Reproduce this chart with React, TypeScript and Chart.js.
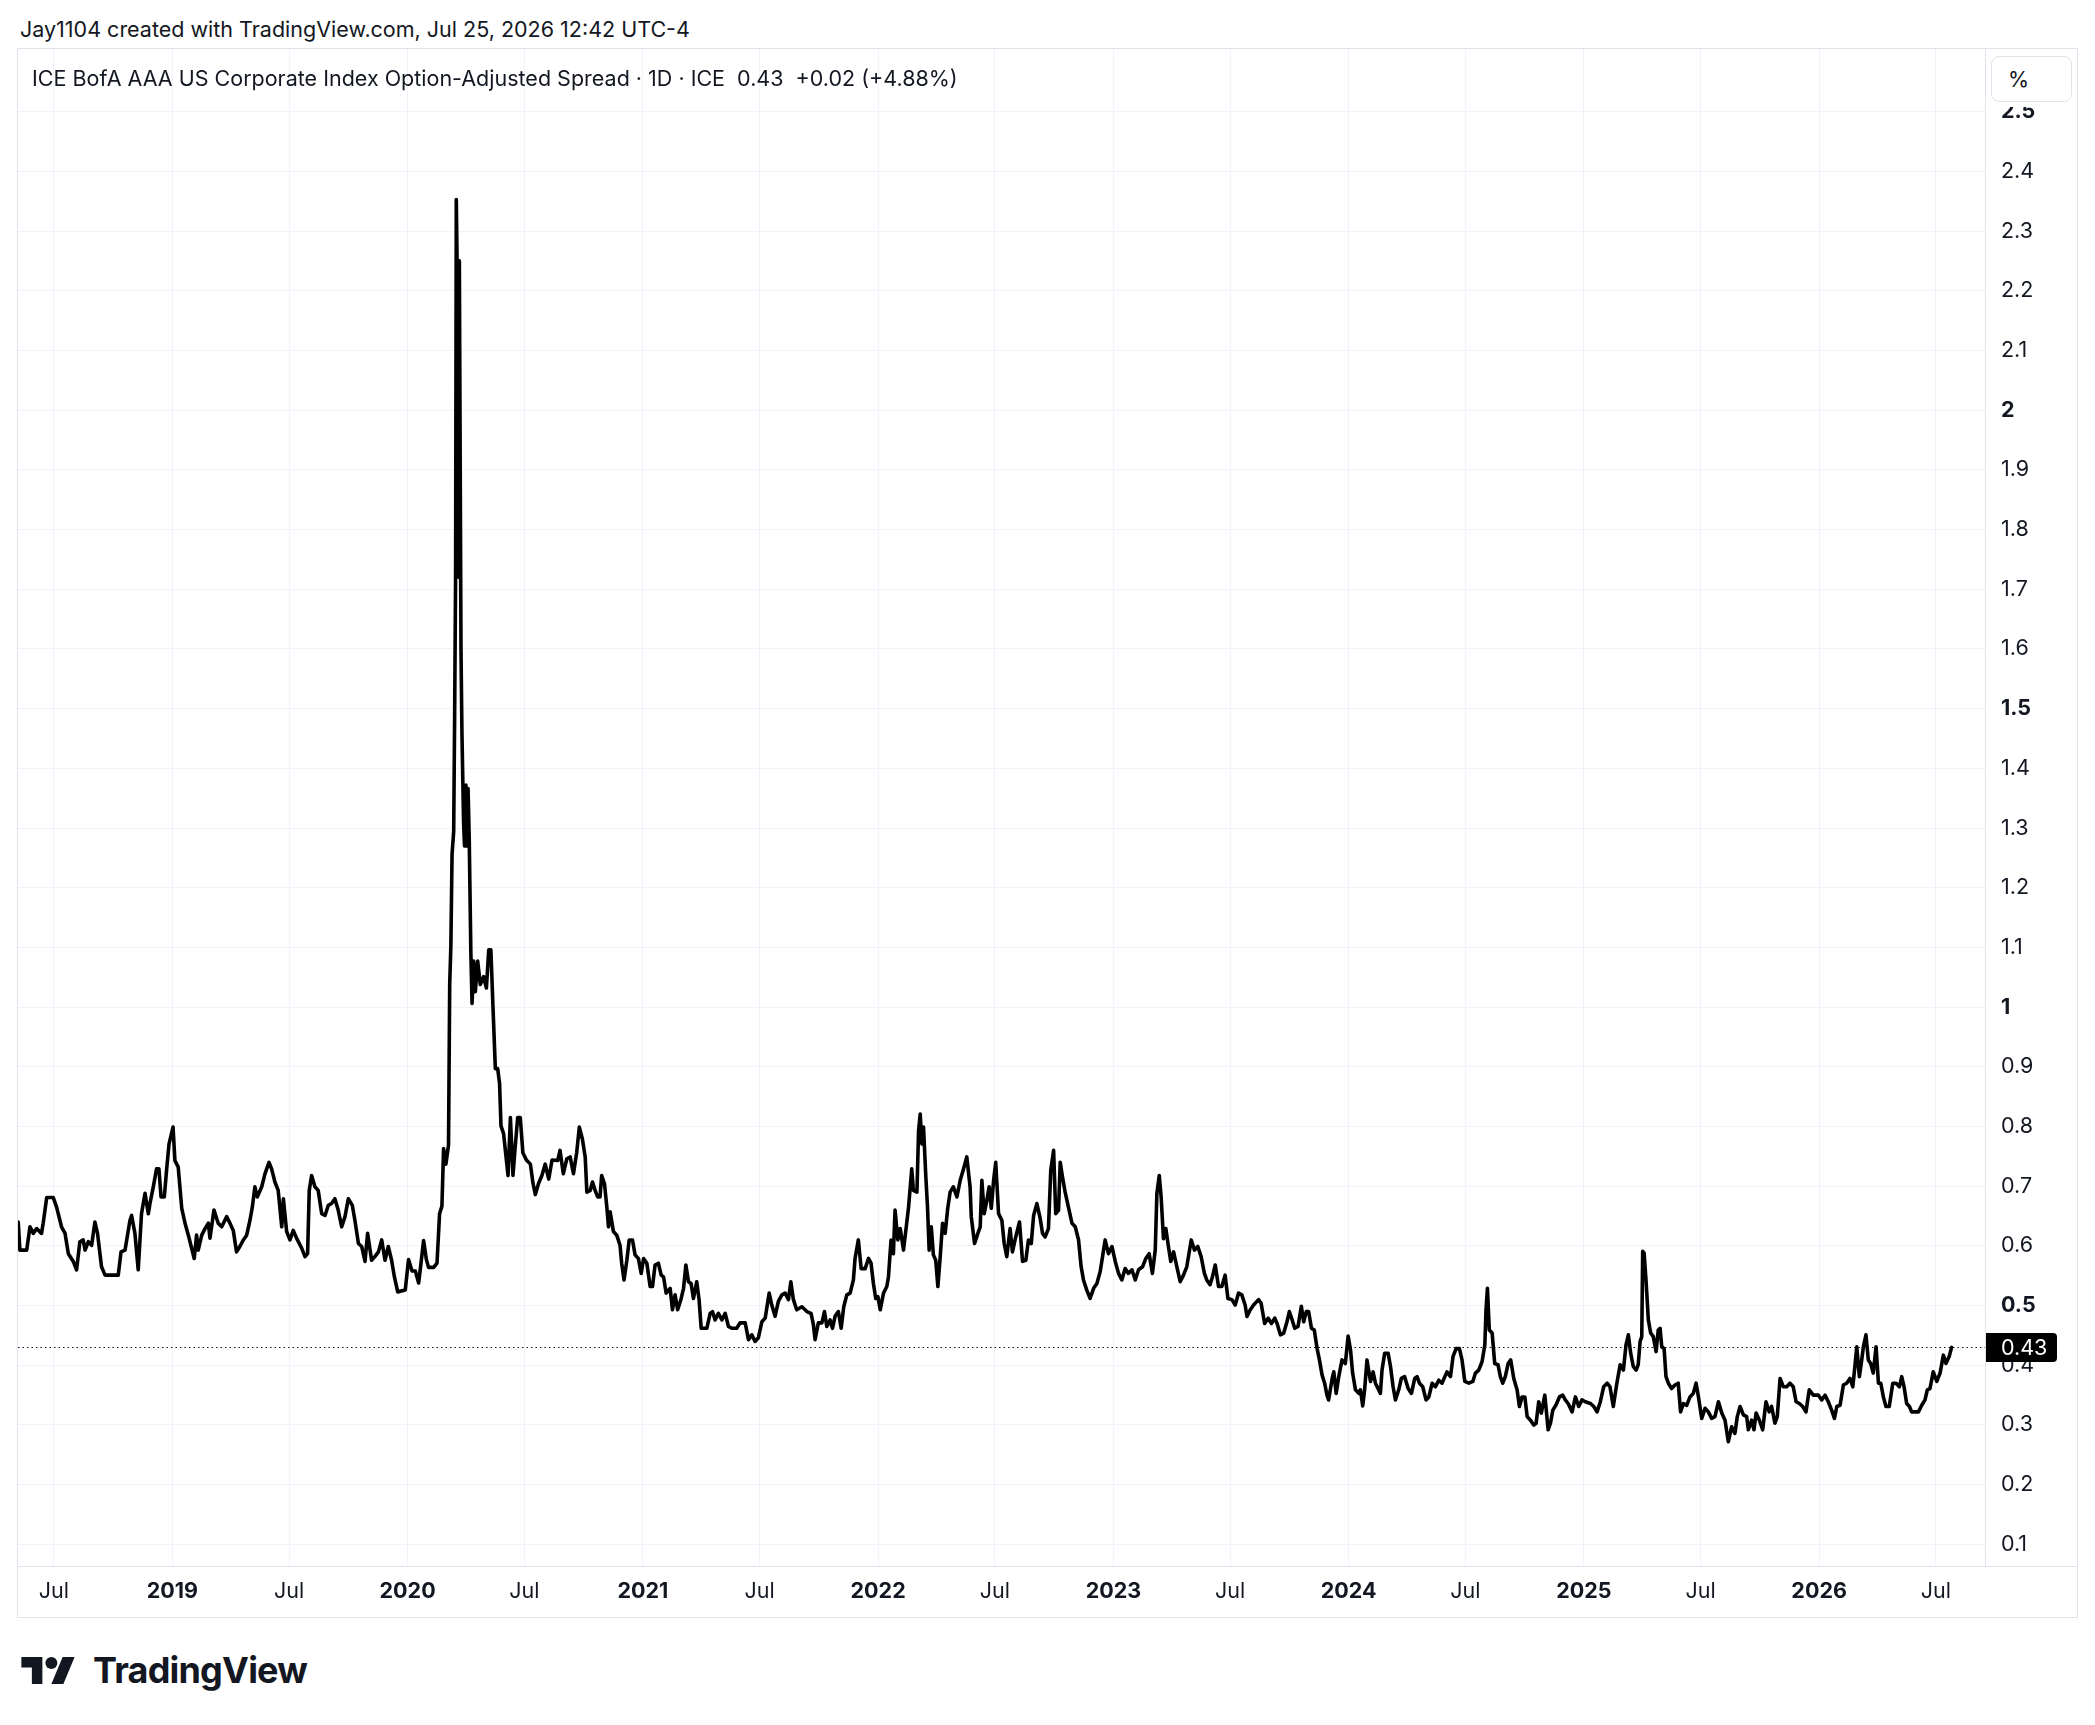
import React, { useEffect, useRef } from 'react';
import { Chart, registerables } from 'chart.js';

Chart.register(...registerables);

const FONT = 'Inter, "Noto Sans", "DejaVu Sans", sans-serif';
const TEXT = '#131722';
const GRID = '#f0f3fa';
const BORDER = '#e0e3eb';
const FS = 21.5;

// Axis definitions
const X_MIN = 2018.344;
const X_MAX = 2026.705;
const Y_MIN = 0.0638;
const Y_MAX = 2.605;

const xTickValues = [2018.496, 2019, 2019.496, 2020, 2020.496, 2021, 2021.496, 2022, 2022.496, 2023, 2023.496, 2024, 2024.496, 2025, 2025.496, 2026, 2026.496];
const xTickLabels = ['Jul', '2019', 'Jul', '2020', 'Jul', '2021', 'Jul', '2022', 'Jul', '2023', 'Jul', '2024', 'Jul', '2025', 'Jul', '2026', 'Jul'];

const yTickValues = [0.1, 0.2, 0.3, 0.4, 0.5, 0.6, 0.7, 0.8, 0.9, 1, 1.1, 1.2, 1.3, 1.4, 1.5, 1.6, 1.7, 1.8, 1.9, 2, 2.1, 2.2, 2.3, 2.4, 2.5];
const yTickLabels = ['0.1', '0.2', '0.3', '0.4', '0.5', '0.6', '0.7', '0.8', '0.9', '1', '1.1', '1.2', '1.3', '1.4', '1.5', '1.6', '1.7', '1.8', '1.9', '2', '2.1', '2.2', '2.3', '2.4', '2.5'];

const lastValue = 0.43;
const headerTitle = 'ICE BofA AAA US Corporate Index Option-Adjusted Spread · 1D · ICE  0.43  +0.02 (+4.88%)';
const creditLine = 'Jay1104 created with TradingView.com, Jul 25, 2026 12:42 UTC-4';

// Series: [fractional year, spread %]
const spread2018 = [
  [2018.345, 0.640], [2018.352, 0.593], [2018.381, 0.593], [2018.395, 0.632], [2018.409, 0.621], [2018.423, 0.629],
  [2018.444, 0.621], [2018.451, 0.638], [2018.466, 0.681], [2018.494, 0.681], [2018.508, 0.665], [2018.529, 0.632],
  [2018.544, 0.621], [2018.558, 0.587], [2018.579, 0.574], [2018.593, 0.560], [2018.607, 0.607], [2018.621, 0.610],
  [2018.629, 0.593], [2018.643, 0.607], [2018.657, 0.601], [2018.671, 0.640], [2018.682, 0.621], [2018.699, 0.565],
  [2018.714, 0.551], [2018.742, 0.551], [2018.770, 0.551], [2018.782, 0.590], [2018.799, 0.593], [2018.820, 0.643],
  [2018.827, 0.651], [2018.841, 0.621], [2018.855, 0.560], [2018.869, 0.654], [2018.884, 0.688], [2018.898, 0.654],
  [2018.905, 0.671], [2018.919, 0.699], [2018.933, 0.729], [2018.943, 0.729], [2018.952, 0.682], [2018.966, 0.682],
  [2018.976, 0.729], [2018.986, 0.771],
];

const spread2019 = [
  [2019.003, 0.799], [2019.011, 0.743], [2019.025, 0.732], [2019.040, 0.663], [2019.054, 0.638], [2019.068, 0.618],
  [2019.082, 0.596], [2019.093, 0.579], [2019.103, 0.618], [2019.110, 0.593], [2019.125, 0.618], [2019.139, 0.629],
  [2019.153, 0.638], [2019.160, 0.613], [2019.177, 0.660], [2019.195, 0.638], [2019.210, 0.632], [2019.231, 0.649],
  [2019.245, 0.638], [2019.259, 0.626], [2019.273, 0.590], [2019.287, 0.599], [2019.302, 0.610], [2019.316, 0.618],
  [2019.330, 0.643], [2019.340, 0.665], [2019.351, 0.699], [2019.361, 0.682], [2019.380, 0.699], [2019.394, 0.721],
  [2019.411, 0.740], [2019.422, 0.729], [2019.436, 0.707], [2019.450, 0.693], [2019.465, 0.632], [2019.472, 0.679],
  [2019.486, 0.624], [2019.500, 0.610], [2019.514, 0.626], [2019.528, 0.613], [2019.550, 0.596], [2019.564, 0.582],
  [2019.575, 0.587], [2019.582, 0.693], [2019.592, 0.718], [2019.606, 0.699], [2019.620, 0.693], [2019.635, 0.654],
  [2019.649, 0.651], [2019.663, 0.668], [2019.677, 0.671], [2019.691, 0.679], [2019.705, 0.660], [2019.720, 0.632],
  [2019.734, 0.649], [2019.748, 0.679], [2019.765, 0.668], [2019.776, 0.643], [2019.791, 0.604], [2019.805, 0.599],
  [2019.819, 0.574], [2019.830, 0.621], [2019.847, 0.576], [2019.861, 0.582], [2019.876, 0.590], [2019.890, 0.610],
  [2019.904, 0.576], [2019.918, 0.599], [2019.932, 0.576], [2019.944, 0.548], [2019.958, 0.523], [2019.990, 0.526],
];

const spread2020 = [
  [2020.004, 0.577], [2020.019, 0.558], [2020.033, 0.558], [2020.047, 0.538], [2020.057, 0.571], [2020.068, 0.609],
  [2020.080, 0.577], [2020.089, 0.564], [2020.111, 0.564], [2020.125, 0.571], [2020.136, 0.654], [2020.146, 0.667],
  [2020.153, 0.763], [2020.163, 0.737], [2020.174, 0.769], [2020.179, 1.038], [2020.184, 1.103], [2020.189, 1.256],
  [2020.196, 1.295], [2020.200, 1.487], [2020.204, 1.718], [2020.207, 2.353], [2020.212, 2.200], [2020.216, 1.720],
  [2020.220, 2.250], [2020.227, 1.600], [2020.231, 1.460], [2020.238, 1.310], [2020.242, 1.270], [2020.248, 1.372],
  [2020.252, 1.270], [2020.257, 1.366], [2020.262, 1.282], [2020.269, 1.090], [2020.274, 1.006], [2020.281, 1.077],
  [2020.288, 1.026], [2020.298, 1.077], [2020.309, 1.038], [2020.323, 1.051], [2020.335, 1.032], [2020.345, 1.096],
  [2020.354, 1.096], [2020.363, 1.000], [2020.373, 0.897], [2020.383, 0.897], [2020.391, 0.872], [2020.397, 0.801],
  [2020.408, 0.788], [2020.420, 0.744], [2020.427, 0.718], [2020.437, 0.815], [2020.448, 0.718], [2020.458, 0.769],
  [2020.468, 0.815], [2020.479, 0.815], [2020.490, 0.756], [2020.505, 0.744], [2020.522, 0.737], [2020.533, 0.705],
  [2020.543, 0.686], [2020.557, 0.705], [2020.571, 0.718], [2020.585, 0.737], [2020.600, 0.712], [2020.614, 0.744],
  [2020.638, 0.743], [2020.648, 0.760], [2020.662, 0.721], [2020.677, 0.746], [2020.691, 0.749], [2020.705, 0.721],
  [2020.719, 0.757], [2020.730, 0.799], [2020.743, 0.779], [2020.755, 0.749], [2020.762, 0.690], [2020.776, 0.693],
  [2020.786, 0.707], [2020.797, 0.693], [2020.808, 0.682], [2020.818, 0.682], [2020.825, 0.718], [2020.837, 0.704],
  [2020.847, 0.665], [2020.854, 0.632], [2020.861, 0.657], [2020.875, 0.624], [2020.889, 0.618], [2020.903, 0.601],
  [2020.910, 0.571], [2020.920, 0.543], [2020.932, 0.576], [2020.942, 0.610], [2020.956, 0.610], [2020.967, 0.585],
  [2020.981, 0.579], [2020.993, 0.554],
];

const spread2021 = [
  [2021.003, 0.579], [2021.017, 0.571], [2021.031, 0.532], [2021.041, 0.532], [2021.052, 0.568], [2021.066, 0.571],
  [2021.078, 0.551], [2021.088, 0.548], [2021.099, 0.521], [2021.116, 0.529], [2021.126, 0.493], [2021.137, 0.518],
  [2021.148, 0.493], [2021.163, 0.512], [2021.173, 0.529], [2021.183, 0.568], [2021.194, 0.540], [2021.205, 0.537],
  [2021.215, 0.512], [2021.229, 0.540], [2021.239, 0.510], [2021.248, 0.462], [2021.272, 0.462], [2021.286, 0.487],
  [2021.296, 0.490], [2021.307, 0.476], [2021.321, 0.487], [2021.336, 0.476], [2021.350, 0.487], [2021.364, 0.465],
  [2021.378, 0.462], [2021.399, 0.462], [2021.413, 0.471], [2021.435, 0.471], [2021.449, 0.443], [2021.463, 0.451],
  [2021.477, 0.440], [2021.491, 0.446], [2021.506, 0.473], [2021.520, 0.479], [2021.537, 0.521], [2021.548, 0.501],
  [2021.562, 0.482], [2021.576, 0.507], [2021.591, 0.518], [2021.605, 0.521], [2021.619, 0.510], [2021.629, 0.540],
  [2021.640, 0.510], [2021.654, 0.493], [2021.676, 0.498], [2021.697, 0.490], [2021.715, 0.487], [2021.725, 0.468],
  [2021.732, 0.443], [2021.746, 0.471], [2021.761, 0.471], [2021.772, 0.490], [2021.782, 0.465], [2021.796, 0.476],
  [2021.806, 0.462], [2021.817, 0.482], [2021.831, 0.490], [2021.843, 0.462], [2021.854, 0.498], [2021.867, 0.518],
  [2021.881, 0.521], [2021.895, 0.543], [2021.902, 0.579], [2021.916, 0.610], [2021.928, 0.562], [2021.945, 0.562],
  [2021.959, 0.579], [2021.970, 0.571], [2021.980, 0.537], [2021.990, 0.512], [2021.999, 0.515],
];

const spread2022 = [
  [2022.009, 0.493], [2022.023, 0.521], [2022.037, 0.532], [2022.044, 0.548], [2022.055, 0.610], [2022.065, 0.587],
  [2022.072, 0.660], [2022.084, 0.610], [2022.094, 0.629], [2022.108, 0.593], [2022.129, 0.663], [2022.143, 0.729],
  [2022.150, 0.693], [2022.165, 0.690], [2022.172, 0.793], [2022.179, 0.821], [2022.186, 0.771], [2022.193, 0.799],
  [2022.203, 0.715], [2022.210, 0.665], [2022.217, 0.593], [2022.226, 0.632], [2022.235, 0.585], [2022.245, 0.576],
  [2022.254, 0.532], [2022.264, 0.582], [2022.274, 0.638], [2022.285, 0.621], [2022.296, 0.663], [2022.306, 0.690],
  [2022.320, 0.699], [2022.335, 0.682], [2022.349, 0.710], [2022.363, 0.729], [2022.377, 0.749], [2022.391, 0.699],
  [2022.396, 0.649], [2022.410, 0.604], [2022.424, 0.621], [2022.434, 0.632], [2022.441, 0.710], [2022.451, 0.654],
  [2022.462, 0.676], [2022.472, 0.699], [2022.481, 0.663], [2022.491, 0.710], [2022.500, 0.740], [2022.512, 0.654],
  [2022.526, 0.643], [2022.536, 0.604], [2022.547, 0.582], [2022.561, 0.629], [2022.571, 0.590], [2022.585, 0.615],
  [2022.601, 0.640], [2022.614, 0.574], [2022.628, 0.576], [2022.639, 0.610], [2022.651, 0.604], [2022.661, 0.651],
  [2022.675, 0.671], [2022.689, 0.646], [2022.699, 0.621], [2022.710, 0.615], [2022.724, 0.629], [2022.734, 0.727],
  [2022.746, 0.760], [2022.755, 0.654], [2022.767, 0.660], [2022.774, 0.740], [2022.784, 0.715], [2022.795, 0.690],
  [2022.809, 0.665], [2022.824, 0.638], [2022.838, 0.632], [2022.852, 0.610], [2022.863, 0.565], [2022.873, 0.543],
  [2022.887, 0.526], [2022.901, 0.512], [2022.916, 0.529], [2022.930, 0.537], [2022.944, 0.557], [2022.954, 0.582],
  [2022.965, 0.610], [2022.979, 0.587], [2022.994, 0.599],
];

const spread2023 = [
  [2023.008, 0.574], [2023.022, 0.554], [2023.036, 0.543], [2023.050, 0.562], [2023.064, 0.554], [2023.079, 0.560],
  [2023.093, 0.543], [2023.107, 0.560], [2023.124, 0.565], [2023.138, 0.579], [2023.152, 0.587], [2023.166, 0.554],
  [2023.178, 0.593], [2023.185, 0.688], [2023.195, 0.718], [2023.203, 0.682], [2023.213, 0.612], [2023.223, 0.629],
  [2023.234, 0.599], [2023.244, 0.574], [2023.256, 0.590], [2023.270, 0.565], [2023.284, 0.540], [2023.298, 0.551],
  [2023.312, 0.565], [2023.331, 0.610], [2023.345, 0.593], [2023.359, 0.599], [2023.373, 0.582], [2023.387, 0.554],
  [2023.397, 0.543], [2023.411, 0.535], [2023.421, 0.548], [2023.433, 0.568], [2023.447, 0.532], [2023.461, 0.532],
  [2023.475, 0.551], [2023.487, 0.512], [2023.504, 0.510], [2023.518, 0.501], [2023.532, 0.521], [2023.546, 0.518],
  [2023.560, 0.501], [2023.568, 0.482], [2023.582, 0.493], [2023.596, 0.501], [2023.617, 0.510], [2023.628, 0.504],
  [2023.643, 0.470], [2023.658, 0.479], [2023.672, 0.470], [2023.686, 0.479], [2023.696, 0.470], [2023.710, 0.451],
  [2023.724, 0.454], [2023.738, 0.473], [2023.748, 0.490], [2023.760, 0.476], [2023.771, 0.462], [2023.785, 0.465],
  [2023.799, 0.499], [2023.809, 0.473], [2023.820, 0.490], [2023.830, 0.490], [2023.842, 0.462], [2023.854, 0.459],
  [2023.866, 0.428], [2023.876, 0.409], [2023.887, 0.384], [2023.898, 0.370], [2023.908, 0.350], [2023.915, 0.342],
  [2023.930, 0.378], [2023.937, 0.389], [2023.947, 0.353], [2023.958, 0.381], [2023.972, 0.409], [2023.986, 0.403],
  [2023.998, 0.449],
];

const spread2024 = [
  [2024.008, 0.426], [2024.017, 0.387], [2024.029, 0.359], [2024.043, 0.353], [2024.050, 0.359], [2024.060, 0.332],
  [2024.068, 0.359], [2024.078, 0.409], [2024.093, 0.373], [2024.104, 0.389], [2024.114, 0.370], [2024.125, 0.361],
  [2024.135, 0.353], [2024.142, 0.392], [2024.153, 0.420], [2024.168, 0.420], [2024.178, 0.398], [2024.189, 0.364],
  [2024.199, 0.342], [2024.213, 0.359], [2024.224, 0.378], [2024.238, 0.381], [2024.253, 0.361], [2024.267, 0.353],
  [2024.281, 0.378], [2024.291, 0.381], [2024.301, 0.370], [2024.315, 0.364], [2024.329, 0.342], [2024.341, 0.347],
  [2024.355, 0.370], [2024.369, 0.364], [2024.383, 0.375], [2024.397, 0.370], [2024.409, 0.381], [2024.418, 0.389],
  [2024.433, 0.381], [2024.444, 0.415], [2024.457, 0.428], [2024.471, 0.428], [2024.482, 0.409], [2024.494, 0.373],
  [2024.511, 0.370], [2024.528, 0.373], [2024.539, 0.387], [2024.553, 0.392], [2024.567, 0.406], [2024.579, 0.434],
  [2024.584, 0.493], [2024.590, 0.529], [2024.598, 0.459], [2024.610, 0.454], [2024.621, 0.403], [2024.635, 0.401],
  [2024.645, 0.381], [2024.655, 0.370], [2024.666, 0.381], [2024.678, 0.403], [2024.689, 0.409], [2024.702, 0.378],
  [2024.716, 0.359], [2024.726, 0.331], [2024.737, 0.347], [2024.749, 0.347], [2024.759, 0.314], [2024.773, 0.308],
  [2024.787, 0.300], [2024.797, 0.303], [2024.808, 0.339], [2024.819, 0.320], [2024.834, 0.350], [2024.848, 0.292],
  [2024.858, 0.303], [2024.868, 0.325], [2024.882, 0.334], [2024.896, 0.347], [2024.910, 0.350], [2024.921, 0.342],
  [2024.933, 0.336], [2024.950, 0.322], [2024.964, 0.347], [2024.978, 0.331], [2024.992, 0.342],
];

const spread2025 = [
  [2025.006, 0.339], [2025.028, 0.336], [2025.042, 0.331], [2025.056, 0.322], [2025.070, 0.339], [2025.084, 0.364],
  [2025.099, 0.370], [2025.111, 0.364], [2025.125, 0.331], [2025.139, 0.367], [2025.154, 0.401], [2025.168, 0.392],
  [2025.179, 0.434], [2025.189, 0.451], [2025.199, 0.420], [2025.210, 0.398], [2025.222, 0.392], [2025.231, 0.401],
  [2025.239, 0.440], [2025.246, 0.448], [2025.250, 0.591], [2025.256, 0.588], [2025.264, 0.543], [2025.274, 0.476],
  [2025.284, 0.454], [2025.295, 0.448], [2025.307, 0.423], [2025.316, 0.459], [2025.324, 0.462], [2025.331, 0.431],
  [2025.341, 0.428], [2025.349, 0.381], [2025.359, 0.370], [2025.373, 0.361], [2025.387, 0.367], [2025.401, 0.370],
  [2025.411, 0.322], [2025.423, 0.336], [2025.437, 0.333], [2025.451, 0.347], [2025.465, 0.353], [2025.477, 0.370],
  [2025.487, 0.347], [2025.501, 0.311], [2025.515, 0.328], [2025.529, 0.322], [2025.543, 0.311], [2025.557, 0.314],
  [2025.572, 0.339], [2025.586, 0.320], [2025.600, 0.308], [2025.614, 0.272], [2025.628, 0.297], [2025.642, 0.286],
  [2025.652, 0.314], [2025.664, 0.331], [2025.678, 0.317], [2025.692, 0.314], [2025.699, 0.292], [2025.713, 0.308],
  [2025.723, 0.292], [2025.732, 0.320], [2025.746, 0.308], [2025.760, 0.292], [2025.774, 0.339], [2025.788, 0.322],
  [2025.798, 0.331], [2025.812, 0.303], [2025.822, 0.314], [2025.834, 0.378], [2025.848, 0.364], [2025.862, 0.364],
  [2025.876, 0.370], [2025.890, 0.364], [2025.902, 0.339], [2025.916, 0.336], [2025.930, 0.331], [2025.944, 0.322],
  [2025.958, 0.359], [2025.975, 0.350], [2025.997, 0.350],
];

const spread2026 = [
  [2026.011, 0.342], [2026.025, 0.350], [2026.039, 0.339], [2026.053, 0.325], [2026.065, 0.311], [2026.075, 0.331],
  [2026.089, 0.333], [2026.103, 0.367], [2026.117, 0.370], [2026.131, 0.378], [2026.143, 0.364], [2026.152, 0.398],
  [2026.160, 0.431], [2026.171, 0.381], [2026.181, 0.409], [2026.188, 0.431], [2026.199, 0.451], [2026.209, 0.409],
  [2026.219, 0.403], [2026.230, 0.387], [2026.242, 0.431], [2026.252, 0.370], [2026.262, 0.370], [2026.273, 0.347],
  [2026.284, 0.331], [2026.298, 0.331], [2026.313, 0.370], [2026.327, 0.370], [2026.341, 0.364], [2026.351, 0.381],
  [2026.361, 0.364], [2026.372, 0.336], [2026.384, 0.331], [2026.393, 0.322], [2026.408, 0.322], [2026.422, 0.322],
  [2026.436, 0.333], [2026.450, 0.342], [2026.460, 0.359], [2026.471, 0.361], [2026.485, 0.389], [2026.500, 0.373],
  [2026.514, 0.387], [2026.528, 0.417], [2026.539, 0.403], [2026.553, 0.415], [2026.563, 0.430],
];

const allSegments = [spread2018, spread2019, spread2020, spread2021, spread2022, spread2023, spread2024, spread2025, spread2026];

const isHalfMultiple = (v: number) => Math.abs(v * 2 - Math.round(v * 2)) < 1e-6;

const overlayPlugin = {
  id: 'tvOverlay',
  beforeDatasetsDraw(chart: any) {
    const { ctx, chartArea, scales } = chart;
    const py = Math.round(scales.y.getPixelForValue(lastValue)) + 0.5;
    ctx.save();
    ctx.strokeStyle = TEXT;
    ctx.lineWidth = 1.2;
    ctx.setLineDash([1.5, 3]);
    ctx.beginPath();
    ctx.moveTo(chartArea.left, py);
    ctx.lineTo(chartArea.right, py);
    ctx.stroke();
    ctx.restore();
  },
  afterDraw(chart: any) {
    const { ctx, chartArea, scales } = chart;
    const py = scales.y.getPixelForValue(lastValue);
    ctx.save();
    // time-axis line continues under the price scale
    ctx.strokeStyle = BORDER;
    ctx.lineWidth = 1;
    ctx.beginPath();
    ctx.moveTo(chartArea.right, Math.round(chartArea.bottom) + 0.5);
    ctx.lineTo(chart.width, Math.round(chartArea.bottom) + 0.5);
    ctx.stroke();
    // last value label
    ctx.fillStyle = '#000000';
    ctx.beginPath();
    (ctx as any).roundRect(chartArea.right + 1, py - 14.5, 71, 29, [0, 4, 4, 0]);
    ctx.fill();
    ctx.fillStyle = '#ffffff';
    ctx.font = `${FS}px ${FONT}`;
    ctx.textAlign = 'left';
    ctx.textBaseline = 'middle';
    ctx.fillText(lastValue.toFixed(2), chartArea.right + 16, py + 1);
    ctx.restore();
  },
};

function SpreadChart() {
  const canvasRef = useRef<HTMLCanvasElement | null>(null);

  useEffect(() => {
    if (!canvasRef.current) return;
    const points = allSegments.flat().map(([x, y]) => ({ x, y }));
    const chart = new Chart(canvasRef.current, {
      type: 'line',
      data: {
        datasets: [
          {
            data: points as any,
            borderColor: '#000000',
            borderWidth: 3.6,
            pointRadius: 0,
            tension: 0,
            fill: false,
            borderJoinStyle: 'round',
            borderCapStyle: 'round',
          },
        ],
      },
      options: {
        animation: false,
        responsive: false,
        events: [],
        layout: { padding: 0 },
        plugins: {
          legend: { display: false },
          tooltip: { enabled: false },
        },
        scales: {
          x: {
            type: 'linear',
            position: 'bottom',
            min: X_MIN,
            max: X_MAX,
            afterBuildTicks: (scale: any) => {
              scale.ticks = xTickValues.map((v) => ({ value: v }));
            },
            afterFit: (scale: any) => {
              scale.height = 51;
              scale.paddingLeft = 0;
              scale.paddingRight = 0;
            },
            ticks: {
              autoSkip: false,
              maxRotation: 0,
              minRotation: 0,
              padding: 13,
              color: TEXT,
              font: (ctx: any) => ({
                family: FONT,
                size: FS,
                weight: xTickLabels[ctx.index] === 'Jul' ? 'normal' : 'bold',
              }),
              callback: (_v: any, i: number) => xTickLabels[i],
            },
            grid: { color: GRID, lineWidth: 1, drawTicks: false },
            border: { display: true, color: BORDER, width: 1 },
          },
          y: {
            type: 'linear',
            position: 'right',
            min: Y_MIN,
            max: Y_MAX,
            afterBuildTicks: (scale: any) => {
              scale.ticks = yTickValues.map((v) => ({ value: v }));
            },
            afterFit: (scale: any) => {
              scale.width = 92;
              scale.paddingTop = 0;
              scale.paddingBottom = 0;
            },
            ticks: {
              autoSkip: false,
              padding: 16,
              color: TEXT,
              font: (ctx: any) => ({
                family: FONT,
                size: FS,
                weight: ctx.tick && isHalfMultiple(ctx.tick.value) ? 'bold' : 'normal',
              }),
              callback: (_v: any, i: number) => yTickLabels[i],
            },
            grid: { color: GRID, lineWidth: 1, drawTicks: false },
            border: { display: true, color: BORDER, width: 1 },
          },
        },
      },
      plugins: [overlayPlugin],
    });
    return () => chart.destroy();
  }, []);

  return (
    <canvas
      ref={canvasRef}
      width={2059}
      height={1568}
      style={{ position: 'absolute', left: 18, top: 49, width: 2059, height: 1568 }}
    />
  );
}

export default function App() {
  return (
    <div
      style={{
        position: 'fixed',
        left: 0,
        top: 0,
        width: 2095,
        height: 1725,
        background: '#ffffff',
        fontFamily: FONT,
        color: TEXT,
        overflow: 'hidden',
      }}
    >
      <div style={{ position: 'absolute', left: 20, top: 16, fontSize: FS, lineHeight: '26px', whiteSpace: 'pre' }}>
        {creditLine}
      </div>
      <div
        style={{
          position: 'absolute',
          left: 17,
          top: 48,
          width: 2061,
          height: 1570,
          border: `1px solid ${BORDER}`,
          boxSizing: 'border-box',
        }}
      />
      <SpreadChart />
      <div style={{ position: 'absolute', left: 32, top: 65, fontSize: FS, lineHeight: '26px', whiteSpace: 'pre' }}>
        {headerTitle}
      </div>
      <div style={{ position: 'absolute', left: 1987, top: 50, width: 89, height: 57, background: '#ffffff' }}>
        <div
          style={{
            position: 'absolute',
            left: 4,
            top: 6,
            width: 81,
            height: 46,
            border: `1px solid ${BORDER}`,
            borderRadius: 8,
            boxSizing: 'border-box',
            fontSize: FS,
            lineHeight: '44px',
            paddingLeft: 16,
          }}
        >
          %
        </div>
      </div>
      <div style={{ position: 'absolute', left: 21, top: 1657, width: 54, height: 27 }}>
        <svg width="54" height="27" viewBox="0 4 35.5 18">
          <path d="M14 22H7V11H0V4h14v18zM28 22h-8l7.5-18h8L28 22z" fill="#131722" />
          <circle cx="20" cy="8" r="4" fill="#131722" />
        </svg>
      </div>
      <div
        style={{
          position: 'absolute',
          left: 93,
          top: 1652,
          fontSize: 36,
          lineHeight: '36px',
          fontWeight: 700,
          letterSpacing: -0.8,
          whiteSpace: 'pre',
        }}
      >
        TradingView
      </div>
    </div>
  );
}
